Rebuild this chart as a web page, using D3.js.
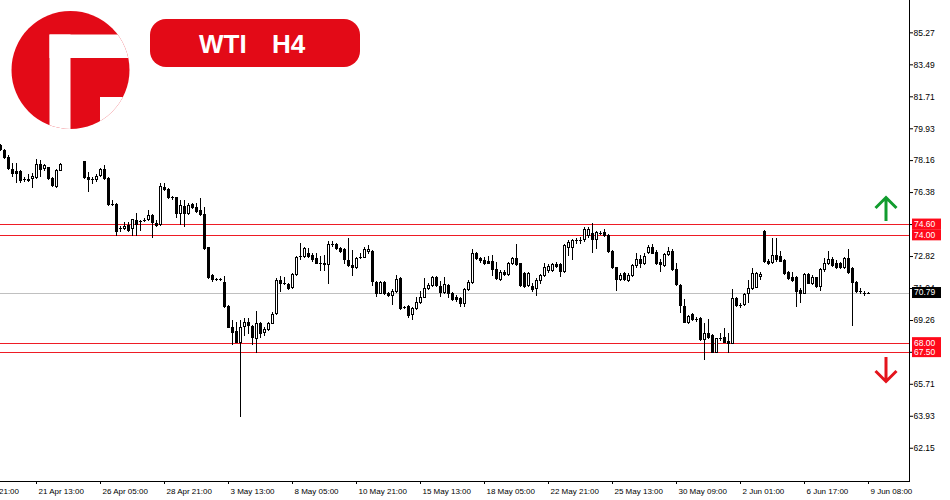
<!DOCTYPE html>
<html>
<head>
<meta charset="utf-8">
<script src="https://cdn.jsdelivr.net/npm/d3@7"></script>
<style>
  body { margin: 0; background: #fff; }
  svg { display: block; font-family: "Liberation Sans", Arial, sans-serif; }
</style>
</head>
<body>
<script>
// WTI H4 candles, bar index 0..217 (16-20 missing in the feed)
var opens = [
  78.99,78.71,78.34,77.69,77.54,77.54,77.10,77.10,77.14,77.23,
  77.93,77.73,77.75,77.17,76.72,77.63,null,null,null,null,
  null,78.10,77.23,77.08,77.08,77.32,77.65,77.19,75.71,75.71,
  74.36,74.36,74.54,74.36,74.82,74.75,74.84,74.87,75.10,74.67,
  74.60,76.67,76.53,76.08,76.08,75.19,75.60,75.19,75.69,75.56,
  75.41,75.15,73.30,71.76,71.52,71.52,71.39,70.06,68.89,68.67,
  68.06,68.93,69.14,68.93,68.25,69.11,68.61,68.76,69.11,69.63,
  71.48,71.30,71.26,71.08,71.80,72.82,72.82,72.97,72.88,72.73,
  72.41,72.45,72.36,73.47,73.47,73.25,73.19,72.60,72.32,72.19,
  72.78,72.78,73.10,73.10,71.39,70.78,71.39,70.78,70.65,70.87,
  71.58,69.97,70.04,69.58,69.91,70.28,70.56,71.06,71.21,71.64,
  71.15,70.84,71.21,70.75,70.53,70.47,70.19,70.97,71.39,72.97,
  72.69,72.60,72.54,72.54,72.08,71.52,71.95,71.82,72.41,72.69,
  72.41,71.89,71.21,71.15,71.02,71.48,71.76,72.04,72.04,72.37,
  72.36,72.00,73.34,73.34,73.71,73.71,73.75,73.99,74.12,73.75,
  74.12,74.17,73.99,73.12,72.19,71.52,71.89,71.48,71.76,72.32,
  72.64,72.41,73.06,73.34,73.06,72.51,72.32,72.93,73.12,72.08,
  71.21,70.04,69.17,69.58,69.32,69.36,68.19,68.52,68.43,67.50,
  68.25,68.30,68.11,68.00,70.47,70.10,70.15,70.75,71.02,71.11,
  71.71,74.23,72.56,72.51,72.88,72.82,72.60,71.95,71.64,71.67,
  70.93,70.78,71.82,71.34,71.64,71.15,72.08,72.45,72.64,72.45,
  72.45,72.19,72.69,72.14,71.39,70.89,70.78,70.79
];
var highs = [
  79.04,78.77,78.43,78.00,77.99,77.60,77.21,77.38,77.45,78.23,
  78.15,77.97,77.78,77.23,77.69,78.00,null,null,null,null,
  null,78.12,77.50,77.23,77.41,77.73,77.88,77.23,75.93,75.75,
  74.49,74.71,74.72,74.89,75.19,74.82,74.91,75.41,75.15,74.82,
  76.89,76.89,76.58,76.15,76.11,75.93,75.93,75.78,75.78,75.75,
  76.03,75.56,73.34,71.80,71.60,71.60,71.71,70.10,69.26,69.17,
  69.26,69.36,69.36,68.99,69.76,69.17,68.89,69.17,69.69,71.58,
  71.71,71.67,71.30,71.86,72.82,73.56,73.34,73.25,72.97,72.97,
  72.82,72.88,73.65,73.67,73.52,73.34,73.25,73.84,73.15,72.75,
  72.97,73.34,73.43,73.15,71.43,71.43,71.43,70.84,70.97,71.76,
  71.64,70.04,70.10,69.97,70.53,70.89,71.58,71.34,71.71,71.71,
  71.43,71.67,71.25,70.84,70.65,70.56,71.02,71.48,73.19,73.03,
  72.78,72.78,72.84,72.88,72.51,72.04,72.04,72.51,72.78,73.49,
  72.45,71.95,71.95,71.30,71.58,71.82,72.45,72.36,72.41,72.51,
  72.45,73.49,73.71,73.75,73.84,73.86,74.45,74.43,74.64,74.23,
  74.21,74.30,74.04,73.15,72.22,71.89,71.95,71.86,72.36,73.00,
  72.88,72.97,73.43,73.49,73.15,72.64,72.97,73.34,73.19,72.45,
  71.25,70.41,69.54,69.63,69.41,69.41,69.08,69.30,68.47,68.28,
  68.52,68.84,68.52,70.99,70.53,70.19,70.75,71.48,72.14,71.95,
  71.95,74.27,72.67,73.80,73.80,73.12,72.64,72.00,71.95,71.71,
  71.02,71.89,71.86,71.76,71.67,72.14,72.69,73.12,72.78,72.60,
  72.51,72.78,73.19,72.22,71.45,71.02,70.89,70.80
];
var lows = [
  78.71,78.27,77.65,77.27,76.95,76.95,77.00,77.00,76.67,77.19,
  77.27,77.60,77.10,76.71,76.67,77.60,null,null,null,null,
  null,77.19,76.45,76.89,77.00,77.27,77.13,75.65,75.65,73.99,
  74.23,74.32,74.23,73.99,73.99,74.27,74.77,74.82,73.89,74.49,
  74.56,76.49,76.03,75.97,74.97,74.60,74.49,75.15,75.50,75.28,
  75.10,73.21,71.58,71.45,71.49,71.49,70.00,68.86,67.93,68.02,
  63.89,68.43,68.52,67.93,67.47,68.30,68.43,68.71,69.08,69.60,
  70.89,71.26,70.99,71.04,71.76,72.64,72.75,72.75,72.56,72.41,
  72.04,72.04,71.30,73.37,73.19,73.06,72.41,72.27,71.76,72.14,
  72.69,72.75,73.00,71.21,70.60,70.75,70.71,70.60,70.15,70.84,
  69.86,69.91,69.45,69.30,69.86,70.23,70.53,70.97,71.15,71.15,
  70.60,70.78,70.53,70.37,70.34,70.04,70.04,70.93,71.30,72.64,
  72.51,72.37,72.41,71.76,71.52,71.48,71.76,71.76,72.37,72.30,
  71.15,71.11,71.15,70.89,70.65,71.30,71.71,71.95,72.00,72.19,
  71.71,71.95,72.88,72.64,73.53,73.53,73.67,73.88,73.06,73.25,
  74.04,73.93,73.06,72.14,70.93,71.48,71.48,71.45,71.71,72.19,
  72.19,72.37,73.00,72.97,72.37,72.00,72.27,72.88,72.04,71.21,
  69.72,69.14,69.08,69.26,69.23,68.15,67.08,68.25,67.47,67.47,
  68.15,68.02,67.50,67.97,70.04,70.00,70.10,70.28,70.97,71.08,
  71.52,72.51,72.37,72.45,72.56,72.54,71.82,71.52,71.45,70.04,
  70.28,70.75,71.30,71.26,71.11,70.93,72.00,72.37,72.27,72.14,
  72.14,72.14,71.89,68.99,70.84,70.75,70.65,70.78
];
var closes = [
  78.77,78.34,77.73,77.42,77.45,77.04,77.10,77.03,77.27,77.93,
  77.69,77.88,77.14,76.76,77.63,77.97,null,null,null,null,
  null,77.23,77.08,77.08,77.27,77.69,77.19,75.69,75.71,74.23,
  74.36,74.50,74.27,74.86,74.60,74.75,74.84,75.10,74.73,74.54,
  76.71,76.56,76.08,76.08,75.19,75.64,75.19,75.65,75.56,75.34,
  75.15,73.25,71.64,71.52,71.52,71.52,70.06,68.89,68.61,68.06,
  68.86,69.15,68.97,68.30,69.08,68.52,68.76,69.08,69.58,71.48,
  71.33,71.30,71.02,71.80,72.78,72.82,73.25,72.82,72.64,72.45,
  72.41,72.36,73.47,73.47,73.25,73.12,72.64,72.32,72.19,72.69,
  72.78,73.21,73.19,71.45,70.78,71.39,70.78,70.65,70.87,71.52,
  69.91,69.97,69.54,69.91,70.28,70.56,71.06,71.21,71.64,71.21,
  70.84,71.26,70.75,70.41,70.41,70.19,70.97,71.39,73.00,72.69,
  72.60,72.45,72.45,72.08,71.58,71.95,71.82,72.41,72.69,72.36,
  71.21,71.15,71.89,70.97,71.48,71.76,72.22,72.27,72.36,72.27,
  72.00,73.43,73.62,73.71,73.71,73.71,74.30,74.30,73.75,74.17,
  74.12,73.99,73.12,72.19,71.52,71.76,71.52,71.76,72.32,72.64,
  72.45,72.82,73.34,73.00,72.41,72.37,72.91,73.12,72.08,71.25,
  70.10,69.17,69.49,69.32,69.32,68.19,68.52,68.30,67.50,68.25,
  68.25,68.06,68.00,70.47,70.10,70.10,70.71,71.02,71.89,71.89,
  71.82,72.56,72.45,72.88,72.64,72.56,71.86,71.58,71.48,70.89,
  70.78,71.82,71.34,71.67,71.15,72.08,72.45,72.64,72.32,72.19,
  72.19,72.69,71.95,71.39,70.89,70.89,70.78,70.79
];

// Price axis ticks and horizontal levels
var priceTicks = [85.27, 83.49, 81.71, 79.93, 78.16, 76.38, 74.60, 72.82, 71.04, 69.26, 67.49, 65.71, 63.93, 62.15];
var levels = [74.60, 74.00, 68.00, 67.50];
var lastPrice = 70.79;

// Time axis labels (bar index of each label)
var timeIdx = [9, 25, 41, 57, 73, 89, 105, 121, 137, 153, 169, 185, 201, 217];
var timeLabels = ['21 Apr 13:00', '26 Apr 05:00', '28 Apr 21:00', '3 May 13:00', '8 May 05:00',
                  '10 May 21:00', '15 May 13:00', '18 May 05:00', '22 May 21:00', '25 May 13:00',
                  '30 May 09:00', '2 Jun 01:00', '6 Jun 17:00', '9 Jun 08:00'];

var W = 950, H = 500,
    axisX = 909, axisY = 481;

var xScale = d3.scaleLinear().domain([0, 217]).range([0, 868]),
    yScale = d3.scaleLinear().domain([60.30, 87.07]).range([axisY, 0]);

var red = '#e30a17';

var svg = d3.select('body').append('svg')
    .attr('width', W)
    .attr('height', H);

// Logo
var logo = svg.append('g');
logo.append('clipPath').attr('id', 'logoClip')
    .append('circle').attr('cx', 70.5).attr('cy', 70).attr('r', 59);
var lg = logo.append('g').attr('clip-path', 'url(#logoClip)');
lg.append('rect').attr('x', 0).attr('y', 0).attr('width', 140).attr('height', 140).attr('fill', red);
lg.append('rect').attr('x', 49.5).attr('y', 34.5).attr('width', 21).attr('height', 100).attr('fill', '#fff');
lg.append('rect').attr('x', 49.5).attr('y', 34.5).attr('width', 90).attr('height', 23.5).attr('fill', '#fff');
lg.append('rect').attr('x', 100).attr('y', 97).attr('width', 40).attr('height', 40).attr('fill', '#fff');

// Title badge
svg.append('rect')
    .attr('x', 150).attr('y', 19).attr('width', 210).attr('height', 48).attr('rx', 16)
    .attr('fill', red);
svg.append('text').attr('x', 199).attr('y', 52.5).text('WTI')
    .attr('fill', '#fff').attr('font-size', 26).attr('font-weight', 'bold');
svg.append('text').attr('x', 272).attr('y', 52.5).text('H4')
    .attr('fill', '#fff').attr('font-size', 26).attr('font-weight', 'bold');

// Level lines
svg.append('line')
    .attr('x1', 0).attr('x2', axisX)
    .attr('y1', Math.round(yScale(lastPrice)) + 0.5).attr('y2', Math.round(yScale(lastPrice)) + 0.5)
    .attr('stroke', '#c0c0c0');

svg.selectAll('.level').data(levels).enter().append('line')
    .attr('class', 'level')
    .attr('x1', 0).attr('x2', axisX)
    .attr('y1', function(d) { return Math.round(yScale(d)) + 0.5; })
    .attr('y2', function(d) { return Math.round(yScale(d)) + 0.5; })
    .attr('stroke', '#ee1c25');

// Candles
var bars = d3.range(opens.length).filter(function(i) { return opens[i] !== null; });
var cg = svg.append('g').attr('shape-rendering', 'crispEdges');

var candle = cg.selectAll('.candle').data(bars).enter().append('g').attr('class', 'candle');

candle.append('line')
    .attr('x1', function(i) { return Math.round(xScale(i)) + 0.5; })
    .attr('x2', function(i) { return Math.round(xScale(i)) + 0.5; })
    .attr('y1', function(i) { return Math.round(yScale(highs[i])); })
    .attr('y2', function(i) { return Math.round(yScale(lows[i])) + 1; })
    .attr('stroke', '#000');

candle.each(function(i) {
    var g = d3.select(this),
        cx = Math.round(xScale(i)),
        yo = Math.round(yScale(opens[i])),
        yc = Math.round(yScale(closes[i])),
        top = Math.min(yo, yc),
        h = Math.abs(yo - yc);
    if (h < 1) {
        g.append('line')
            .attr('x1', cx - 1).attr('x2', cx + 2)
            .attr('y1', yo + 0.5).attr('y2', yo + 0.5)
            .attr('stroke', '#000');
    } else if (closes[i] < opens[i]) {
        g.append('rect')
            .attr('x', cx - 1).attr('y', top).attr('width', 3).attr('height', h + 1)
            .attr('fill', '#000');
    } else {
        g.append('rect')
            .attr('x', cx - 0.5).attr('y', top + 0.5).attr('width', 2).attr('height', h)
            .attr('fill', '#fff').attr('stroke', '#000');
    }
});

// Right price axis
var yAxis = svg.append('g')
    .attr('transform', 'translate(' + axisX + ',0)')
    .call(d3.axisRight(yScale).tickValues(priceTicks).tickSize(4).tickSizeOuter(0).tickPadding(0.5)
          .tickFormat(d3.format('.2f')));
yAxis.select('.domain').remove();
yAxis.selectAll('text').attr('font-size', 8.5).attr('font-family', '"Liberation Sans", Arial, sans-serif').attr('fill', '#000');

// Bottom time axis
var xAxis = svg.append('g')
    .attr('transform', 'translate(0,' + axisY + ')')
    .call(d3.axisBottom(xScale).tickValues(timeIdx).tickSize(3).tickSizeOuter(0).tickPadding(4)
          .tickFormat(function(d, i) { return timeLabels[i]; }));
xAxis.select('.domain').remove();
xAxis.selectAll('text')
    .attr('text-anchor', 'start').attr('x', 2)
    .attr('font-size', 8).attr('font-family', '"Liberation Sans", Arial, sans-serif').attr('fill', '#000');

// clipped label at the left edge
svg.append('text').attr('x', 19).attr('y', 494).attr('text-anchor', 'end')
    .attr('font-size', 8).text('18 Apr 21:00');

// Frame lines
svg.append('line').attr('x1', axisX + 0.5).attr('x2', axisX + 0.5).attr('y1', 0).attr('y2', axisY + 1)
    .attr('stroke', '#000');
svg.append('line').attr('x1', 0).attr('x2', axisX + 1).attr('y1', axisY + 0.5).attr('y2', axisY + 0.5)
    .attr('stroke', '#000');

// Price tags
function tag(p, fill) {
    var y = yScale(p);
    svg.append('rect')
        .attr('x', 912).attr('y', y - 5.5).attr('width', 29).attr('height', 11)
        .attr('fill', fill);
    svg.append('text')
        .attr('x', 914).attr('y', y).attr('dy', '0.35em')
        .attr('font-size', 8.5).attr('fill', '#fff')
        .text(d3.format('.2f')(p));
}
levels.forEach(function(p) { tag(p, '#ff0a1a'); });
tag(lastPrice, '#000');

// Arrows
svg.append('path')
    .attr('d', 'M886,221V197.5M875.5,208L886,197.5L896.5,208')
    .attr('fill', 'none').attr('stroke', '#119c2e').attr('stroke-width', 3);
svg.append('path')
    .attr('d', 'M886,357V381.5M875.5,371L886,381.5L896.5,371')
    .attr('fill', 'none').attr('stroke', '#e4141c').attr('stroke-width', 3);
</script>
</body>
</html>
